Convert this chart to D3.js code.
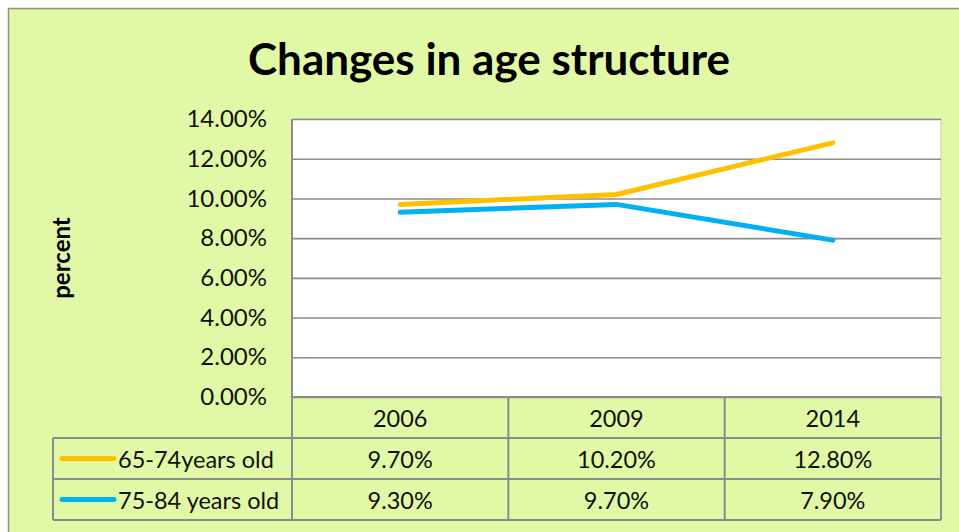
<!DOCTYPE html>
<html><head><meta charset="utf-8">
<script src="https://cdn.jsdelivr.net/npm/d3@7"></script>
<style>html,body{margin:0;padding:0;background:#fff;overflow:hidden}</style>
</head><body><svg id="c" width="959" height="532"></svg>
<script>
const categories = ["2006", "2009", "2014"];
const seriesNames = ["65-74years old", "75-84 years old"];
const series65 = [0.097, 0.102, 0.128];
const series75 = [0.093, 0.097, 0.079];
const yTicks = [0, 0.02, 0.04, 0.06, 0.08, 0.10, 0.12, 0.14];
const colors = ["#FFC000", "#00B0F0"];

const font = "Lato, 'Open Sans', sans-serif";
const svg = d3.select("#c");
const bg = "#E1F9A6";
svg.append("rect").attr("x", 8.5).attr("y", 8.5).attr("width", 960).attr("height", 540)
  .attr("fill", bg).attr("stroke", "#8f8f8f").attr("stroke-width", 1.5);

const L = 292, R = 941, T = 119, B = 397;
const x = d3.scaleBand().domain(categories).range([L, R]);
const y = d3.scaleLinear().domain([0, 0.14]).range([B, T]);

svg.append("rect").attr("x", L).attr("y", T).attr("width", R - L).attr("height", B - T)
  .attr("fill", "#fff").attr("stroke", "#c8d0b0").attr("stroke-width", 1);

// gridlines
const yAxis = d3.axisLeft(y).tickValues(yTicks).tickFormat(d3.format(".2%")).tickSize(-(R - L)).tickPadding(25);
const ga = svg.append("g").attr("transform", `translate(${L},0)`).call(yAxis);
ga.select(".domain").remove();
ga.selectAll(".tick line").attr("stroke", "#8c8c8c").attr("stroke-width", 1.6);
ga.selectAll(".tick text").attr("font-family", font).attr("font-size", 24).attr("fill", "#111");
svg.append("line").attr("x1", L).attr("x2", L).attr("y1", T).attr("y2", B)
  .attr("stroke", "#8c8c8c").attr("stroke-width", 2);

// lines
const line = d3.line().x((d, i) => x(categories[i]) + x.bandwidth() / 2).y(d => y(d));
[series65, series75].forEach((s, k) => {
  svg.append("path").datum(s).attr("d", line).attr("fill", "none")
    .attr("stroke", colors[k]).attr("stroke-width", 5).attr("stroke-linecap", "round").attr("stroke-linejoin", "round");
});

// data table
const rowH = [B, 438, 479, 520];
const gridC = "#8c8c8c";
const fs = 23.5;
const tg = svg.append("g");
categories.forEach(c => {
  tg.append("text").attr("x", x(c) + x.bandwidth() / 2).attr("y", (rowH[0] + rowH[1]) / 2 + 9)
    .attr("text-anchor", "middle").attr("font-family", font).attr("font-size", fs).attr("fill", "#111").text(c);
});
const LL = 53;
tg.append("line").attr("x1", L).attr("x2", R).attr("y1", rowH[0]).attr("y2", rowH[0]).attr("stroke", gridC).attr("stroke-width", 2);
[1, 2, 3].forEach(i => tg.append("line").attr("x1", LL).attr("x2", R).attr("y1", rowH[i]).attr("y2", rowH[i]).attr("stroke", gridC).attr("stroke-width", 2));
[L, ...categories.map(c => x(c) + x.bandwidth()).slice(0, 2), R].forEach(xx => {
  tg.append("line").attr("x1", xx).attr("x2", xx).attr("y1", rowH[0]).attr("y2", rowH[3]).attr("stroke", gridC).attr("stroke-width", 2);
});
tg.append("line").attr("x1", LL).attr("x2", LL).attr("y1", rowH[1]).attr("y2", rowH[3]).attr("stroke", gridC).attr("stroke-width", 2);

const fmt = d3.format(".2%");
[series65, series75].forEach((s, k) => {
  const cy = (rowH[k + 1] + rowH[k + 2]) / 2;
  tg.append("line").attr("x1", 62).attr("x2", 114).attr("y1", cy).attr("y2", cy)
    .attr("stroke", colors[k]).attr("stroke-width", 5).attr("stroke-linecap", "round");
  tg.append("text").attr("x", 118).attr("y", cy + 9).attr("font-family", font).attr("font-size", fs).attr("fill", "#111").text(seriesNames[k]);
  s.forEach((v, i) => {
    tg.append("text").attr("x", x(categories[i]) + x.bandwidth() / 2).attr("y", cy + 9)
      .attr("text-anchor", "middle").attr("font-family", font).attr("font-size", fs).attr("fill", "#111").text(fmt(v));
  });
});

// title
svg.append("text").attr("x", 489).attr("y", 75).attr("text-anchor", "middle").attr("font-family", font)
  .attr("font-weight", "bold").attr("font-size", 44).attr("fill", "#000").text("Changes in age structure");
// y axis title
svg.append("text").attr("transform", "translate(70,258) rotate(-90)").attr("text-anchor", "middle")
  .attr("font-family", font).attr("font-weight", "bold").attr("font-size", 24).attr("fill", "#000").text("percent");
</script></body></html>
